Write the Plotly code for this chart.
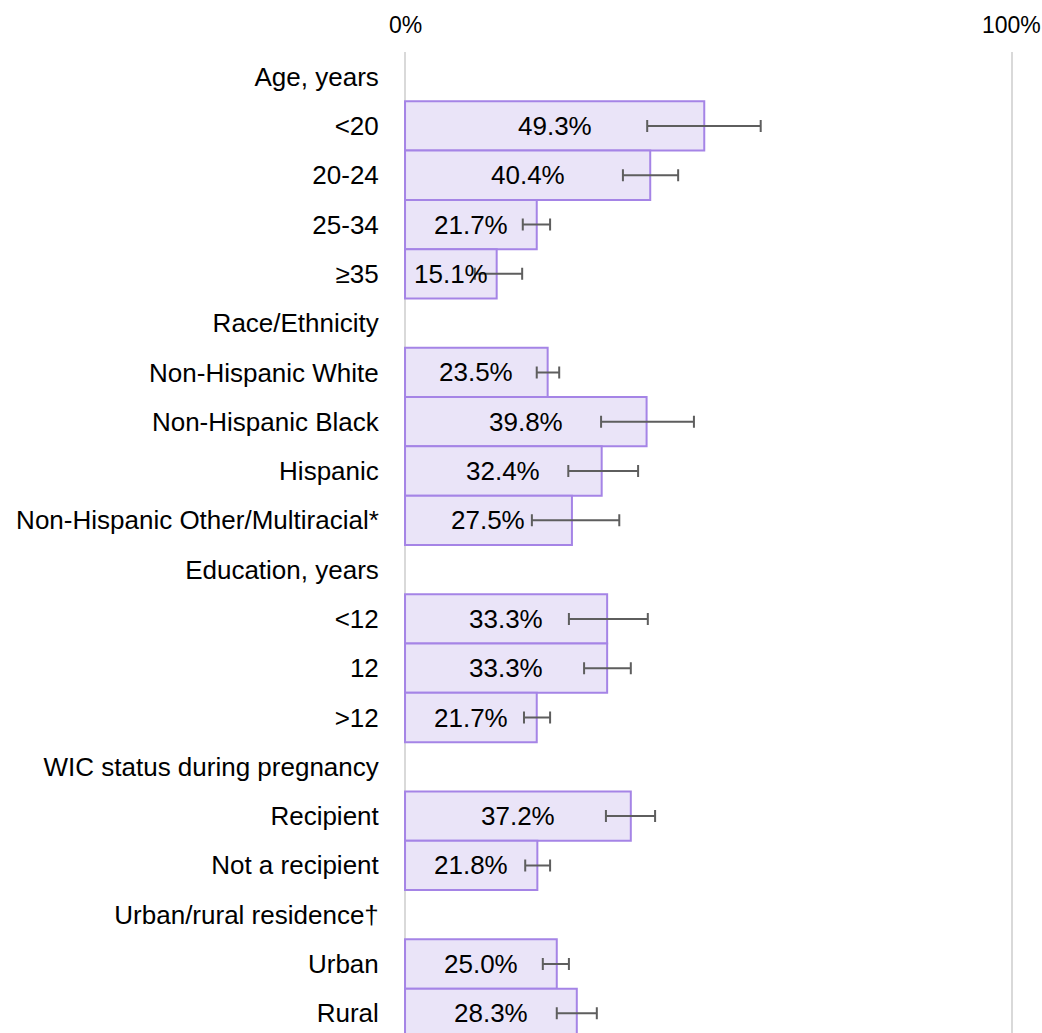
import plotly.graph_objects as go

# Row labels, top to bottom (group headings have no bar)
categories = [
    "Age, years", "<20", "20-24", "25-34", "≥35",
    "Race/Ethnicity", "Non-Hispanic White", "Non-Hispanic Black", "Hispanic",
    "Non-Hispanic Other/Multiracial*",
    "Education, years", "<12", "12", ">12",
    "WIC status during pregnancy", "Recipient", "Not a recipient",
    "Urban/rural residence†", "Urban", "Rural",
]
# Prevalence (%) per row; None for headings
percent = [
    None, 49.3, 40.4, 21.7, 15.1,
    None, 23.5, 39.8, 32.4, 27.5,
    None, 33.3, 33.3, 21.7,
    None, 37.2, 21.8,
    None, 25.0, 28.3,
]
# 95% confidence limits
ci_low = [
    None, 39.9, 35.9, 19.4, 11.5,
    None, 21.7, 32.3, 26.9, 20.9,
    None, 27.0, 29.5, 19.6,
    None, 33.1, 19.8,
    None, 22.7, 25.0,
]
ci_high = [
    None, 58.6, 45.0, 23.9, 19.3,
    None, 25.4, 47.6, 38.4, 35.3,
    None, 40.0, 37.2, 23.9,
    None, 41.2, 23.9,
    None, 27.0, 31.6,
]
x_tick_values = [0, 100]
x_tick_labels = ["0%", "100%"]

err_plus = [None if v is None else hi - v for v, hi in zip(percent, ci_high)]
err_minus = [None if v is None else v - lo for v, lo in zip(percent, ci_low)]

FONT = "Liberation Sans, Arial, sans-serif"

fig = go.Figure()
fig.add_trace(go.Bar(
    y=categories,
    x=percent,
    orientation="h",
    marker=dict(color="#EAE4F8", line=dict(color="#A584E6", width=2)),
    width=1.0,
    error_x=dict(
        type="data", symmetric=False,
        array=err_plus, arrayminus=err_minus,
        color="#5E5E5E", thickness=2, width=6,
    ),
    hoverinfo="skip",
))

# Value labels centred in each bar
for cat, v in zip(categories, percent):
    if v is None:
        continue
    fig.add_annotation(
        x=v / 2, y=cat, text=f"{v:.1f}%", showarrow=False,
        font=dict(family=FONT, size=26, color="#000000"),
        xanchor="center", yanchor="middle",
    )

# Top axis labels, placed as annotations so the right-hand one is never dropped
for tv, tl in zip(x_tick_values, x_tick_labels):
    fig.add_annotation(
        x=tv, xref="x", y=1, yref="paper", text=tl, showarrow=False,
        font=dict(family=FONT, size=23, color="#000000"),
        xanchor="center", yanchor="bottom", yshift=12,
    )

fig.update_layout(
    width=1042, height=1033,
    margin=dict(l=402, r=27, t=52, b=0),
    paper_bgcolor="white", plot_bgcolor="white",
    showlegend=False,
    font=dict(family=FONT, size=26, color="#000000"),
    xaxis=dict(
        side="top", range=[-0.5, 100.5],
        tickvals=x_tick_values, showticklabels=False,
        showgrid=True, gridcolor="#D9D9D9", gridwidth=2,
        zeroline=False, showline=False, ticks="",
    ),
    yaxis=dict(
        type="category", categoryorder="array", categoryarray=categories,
        range=[19.4, -0.5],
        showgrid=False, zeroline=False, showline=False,
        ticks="outside", ticklen=17, tickcolor="rgba(0,0,0,0)",
        tickfont=dict(family=FONT, size=26, color="#000000"),
    ),
)

fig.write_html("out.html")
